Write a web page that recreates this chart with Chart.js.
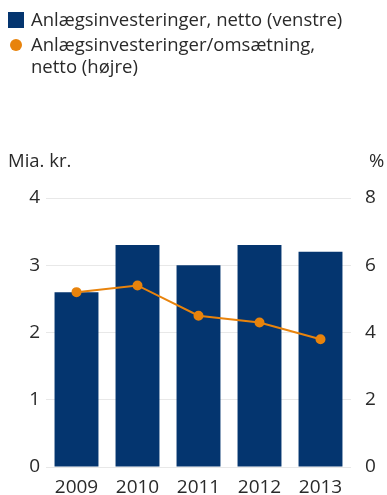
<!DOCTYPE html>
<html>
<head>
<meta charset="utf-8">
<script src="https://cdn.jsdelivr.net/npm/chart.js@4.4.1/dist/chart.umd.min.js"></script>
<style>
  body { margin: 0; background: #fff; font-family: "Open Sans", sans-serif; color: #2a2a2a; }
  #wrap { position: relative; width: 387px; height: 495px; }
  canvas { position: absolute; left: 0; top: 0; }
  .lg { position: absolute; left: 31px; font-size: 18.5px; line-height: 22px; }
  .sw { position: absolute; }
  .ax { position: absolute; top: 147px; font-size: 18.5px; }
</style>
</head>
<body>
<div id="wrap">
  <canvas id="c" width="387" height="495"></canvas>
  <div class="sw" style="left:8px;top:12px;width:16px;height:16px;background:#04356f"></div>
  <div class="lg" style="top:8px">Anlægsinvesteringer, netto (venstre)</div>
  <div class="sw" style="left:10px;top:39px;width:12px;height:12px;border-radius:50%;background:#e8830c"></div>
  <div class="lg" style="top:33px">Anlægsinvesteringer/omsætning,<br>netto (højre)</div>
  <div class="ax" style="left:8px">Mia. kr.</div>
  <div class="ax" style="left:369px">%</div>
</div>
<script>
const years = ['2009', '2010', '2011', '2012', '2013'];
const investments = [2.6, 3.3, 3.0, 3.3, 3.2];   // Mia. kr., left axis
const ratio = [5.2, 5.4, 4.5, 4.3, 3.8];        // %, right axis

const tickFont = { family: 'Open Sans', size: 19 };

new Chart(document.getElementById('c'), {
  data: {
    labels: years,
    datasets: [
      {
        type: 'line',
        label: 'Anlægsinvesteringer/omsætning, netto (højre)',
        data: ratio,
        yAxisID: 'y1',
        borderColor: '#e8830c',
        backgroundColor: '#e8830c',
        borderWidth: 2,
        pointRadius: 4,
        tension: 0,
        order: 0,
      },
      {
        type: 'bar',
        label: 'Anlægsinvesteringer, netto (venstre)',
        data: investments,
        yAxisID: 'y',
        backgroundColor: '#04356f',
        categoryPercentage: 1,
        barPercentage: 0.72,
        order: 1,
      },
    ],
  },
  options: {
    responsive: false,
    animation: false,
    layout: { padding: { top: 198, left: 0, right: 0, bottom: 0 } },
    plugins: { legend: { display: false }, tooltip: { enabled: false } },
    scales: {
      x: {
        grid: { display: false },
        border: { display: false },
        ticks: { color: '#2a2a2a', font: tickFont, padding: 1 },
        afterFit: s => { s.height = 28; },
      },
      y: {
        position: 'left',
        min: 0, max: 4,
        ticks: { stepSize: 1, color: '#2a2a2a', font: tickFont, padding: 6 },
        grid: { color: '#e8e8e8', drawTicks: false },
        border: { display: false },
        afterFit: s => { s.width = 46; },
      },
      y1: {
        position: 'right',
        min: 0, max: 8,
        ticks: { stepSize: 2, color: '#2a2a2a', font: tickFont, padding: 6 },
        grid: { display: false },
        border: { display: false },
        afterFit: s => { s.width = 36; },
      },
    },
  },
});
</script>
</body>
</html>
